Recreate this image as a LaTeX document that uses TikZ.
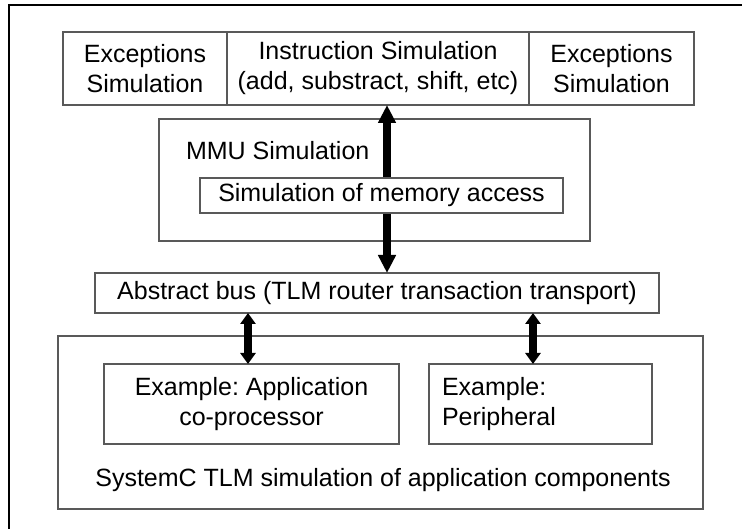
\documentclass[tikz,border=0pt]{standalone}
\usepackage{fontspec}
\setmainfont{Liberation Sans}
\usetikzlibrary{positioning,arrows.meta}
\frenchspacing
\begin{document}
\begin{tikzpicture}[x=1pt,y=-1pt,
  txt/.style={font=\fontsize{25}{30}\selectfont, inner sep=0pt, outer sep=0pt},
  blk/.style={txt, draw=black!65, line width=1.2pt, fill=white, align=center},
  lnk/.style={line width=8.5pt, {Triangle[width=17pt,length=18pt]}-{Triangle[width=17pt,length=18pt]}},
  lnks/.style={line width=7.5pt, {Triangle[width=15pt,length=11pt]}-{Triangle[width=15pt,length=11pt]}}]
\useasboundingbox (0,0) rectangle (742,529);
\begin{scope}
\clip (0,0) rectangle (742,529);
\draw[line width=1.5pt] (9,5) rectangle (800,600);
\end{scope}
% top row
\node[blk, minimum width=164pt, minimum height=73pt] (excL) at (145,68.5) {Exceptions\\Simulation};
\node[blk, minimum width=302pt, minimum height=73pt, right=0pt of excL] (instr) {Instruction Simulation\\(add, substract, shift, etc)};
\node[blk, minimum width=165pt, minimum height=73pt, right=0pt of instr] (excR) {Exceptions\\Simulation};
% mmu
\node[blk, minimum width=431pt, minimum height=122pt] (mmu) at (374.5,180) {};
\node[blk] (bus) [minimum width=564pt, minimum height=40pt] at (377,293) {Abstract bus (TLM router transaction transport)};
\draw[lnk] ([xshift=9pt]instr.south) -- ([xshift=9pt]instr.south |- bus.north);
\node[blk, minimum width=363pt, minimum height=35pt] (mem) at (381.5,195.5) {Simulation of memory access};
\node[txt, anchor=base west] (mmulbl) at (186,160) {MMU Simulation};
% application side
\node[blk, minimum width=645pt, minimum height=173pt] (sysc) at (380.5,422.5) {};
\node[blk, minimum width=295pt, minimum height=80pt] (inl) at (251.5,404) {Example: Application\\co-processor};
\node[blk, minimum height=80pt, text width=197pt, inner xsep=13pt, align=left] (inr) at (540.5,404) {Example:\\Peripheral};
\node[txt, anchor=base] (syslbl) at (383,486) {SystemC TLM simulation of application components};
\draw[lnks] ([xshift=-3.5pt]inl.north |- bus.south) -- ([xshift=-3.5pt]inl.north);
\draw[lnks] ([xshift=-7.5pt]inr.north |- bus.south) -- ([xshift=-7.5pt]inr.north);
\end{tikzpicture}
\end{document}
